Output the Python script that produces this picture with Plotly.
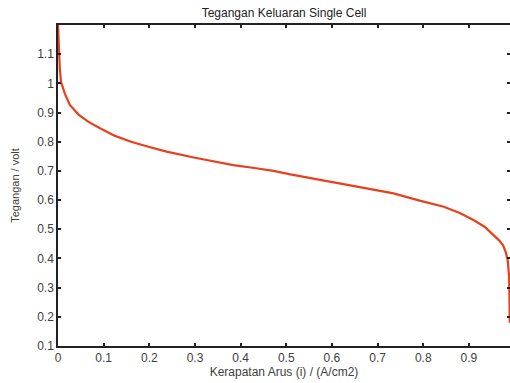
import plotly.graph_objects as go

current_density = [0, 0.001, 0.002, 0.004, 0.0066, 0.015, 0.026, 0.045, 0.066, 0.092, 0.125,
                   0.16, 0.2, 0.238, 0.3, 0.35, 0.384, 0.43, 0.472, 0.509, 0.55, 0.6,
                   0.633, 0.68, 0.735, 0.79, 0.845, 0.88, 0.911, 0.935, 0.951, 0.966,
                   0.975, 0.981, 0.985, 0.987, 0.988, 0.9885, 0.989, 0.9893, 0.9895]
voltage = [1.2, 1.16, 1.10, 1.05, 1.005, 0.965, 0.926, 0.893, 0.869, 0.846, 0.82,
           0.80, 0.782, 0.766, 0.745, 0.73, 0.72, 0.71, 0.70, 0.688, 0.676, 0.662,
           0.651, 0.638, 0.623, 0.599, 0.577, 0.556, 0.531, 0.508, 0.486, 0.462,
           0.445, 0.42, 0.394, 0.36, 0.337, 0.3, 0.26, 0.22, 0.18]

x_ticks = [0, 0.1, 0.2, 0.3, 0.4, 0.5, 0.6, 0.7, 0.8, 0.9]
y_ticks = [0.1, 0.2, 0.3, 0.4, 0.5, 0.6, 0.7, 0.8, 0.9, 1.0, 1.1]

fig = go.Figure()
fig.add_trace(go.Scatter(x=current_density, y=voltage, mode="lines",
                         line=dict(color="#E8401C", width=2.2), showlegend=False))

font = dict(family="Liberation Sans, Arial, sans-serif", size=12, color="#404040")
fig.update_layout(
    width=510, height=383,
    margin=dict(l=58, r=0, t=25, b=37, autoexpand=False),
    paper_bgcolor="white", plot_bgcolor="white",
    font=font,
    title=dict(text="Tegangan Keluaran Single Cell", x=0.557, xanchor="center",
               y=0.966, yanchor="middle", font=dict(size=12, color="#222222")),
    xaxis=dict(range=[0, 0.99], tickvals=x_ticks, ticktext=[f"{v:g}" for v in x_ticks],
               ticks="inside", ticklen=3, tickwidth=1.5, tickcolor="#222",
               showline=True, linecolor="#222", linewidth=1.5, mirror="ticks",
               showgrid=False, zeroline=False, automargin=False,
               ticklabelstandoff=0,
               title=dict(text="Kerapatan Arus (i) / (A/cm2)", standoff=2,
                          font=dict(size=12, color="#404040"))),
    yaxis=dict(range=[0.1, 1.2], tickvals=y_ticks, ticktext=[f"{v:g}" for v in y_ticks],
               ticks="inside", ticklen=3, tickwidth=1.5, tickcolor="#222",
               showline=True, linecolor="#222", linewidth=1.5, mirror="ticks",
               showgrid=False, zeroline=False, automargin=False,
               title=dict(text="Tegangan / volt", standoff=15,
                          font=dict(size=11, color="#404040"))),
)

fig.write_html("out.html", config={"displayModeBar": False},
               post_script="document.body.style.margin='0';document.body.style.overflow='hidden';")
